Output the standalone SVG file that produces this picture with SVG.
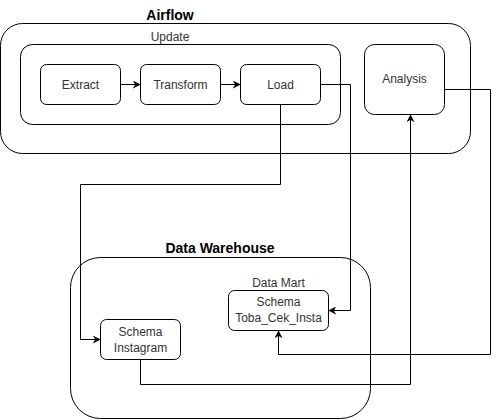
<svg xmlns="http://www.w3.org/2000/svg" width="499" height="420" viewBox="0 0 499 420">
<style>
.box{fill:#fff;stroke:#000;stroke-width:1}
.grp{fill:none;stroke:#000;stroke-width:1}
.t{font-family:"Liberation Sans",Arial,sans-serif;font-size:12px;fill:#333;text-anchor:middle}
.h{font-family:"Liberation Sans",Arial,sans-serif;font-size:14px;font-weight:bold;fill:#000;text-anchor:middle}
.c{fill:none;stroke:#000;stroke-width:1}
</style>
<defs>
<marker id="arr" viewBox="0 0 10 10" refX="9" refY="5" markerWidth="8" markerHeight="8" markerUnits="userSpaceOnUse" orient="auto">
<path d="M0,0 L10,5 L0,10 L3,5 Z" fill="#000"/>
</marker>
</defs>
<rect width="499" height="420" fill="#fff"/>
<g id="airflow">
<rect class="grp" x="0.5" y="23.5" width="470" height="130" rx="22"/>
<text class="h" x="170" y="20">Airflow</text>
</g>
<g id="update">
<rect class="grp" x="20.5" y="44.5" width="320" height="80" rx="12"/>
<text class="t" x="170" y="41">Update</text>
</g>
<g id="warehouse">
<rect class="grp" x="70.5" y="257.5" width="300" height="161" rx="30"/>
<text class="h" x="220" y="253">Data Warehouse</text>
</g>
<g id="extract">
<rect class="box" x="40.5" y="64.5" width="80" height="40" rx="6"/>
<text class="t" x="80.5" y="88.5">Extract</text>
</g>
<g id="transform">
<rect class="box" x="140.5" y="64.5" width="80" height="40" rx="6"/>
<text class="t" x="180.5" y="88.5">Transform</text>
</g>
<g id="load">
<rect class="box" x="240.5" y="64.5" width="80" height="40" rx="6"/>
<text class="t" x="280.5" y="88.5">Load</text>
</g>
<g id="analysis">
<rect class="box" x="364.5" y="44.5" width="80" height="70" rx="10"/>
<text class="t" x="404.5" y="83">Analysis</text>
</g>
<g id="datamart">
<text class="t" x="278.5" y="287">Data Mart</text>
<rect class="box" x="228.5" y="290.5" width="100" height="40" rx="6"/>
<text class="t" x="278.5" y="306">Schema</text>
<text class="t" x="278.5" y="322">Toba_Cek_Insta</text>
</g>
<g id="instagram">
<rect class="box" x="100.5" y="319.5" width="80" height="40" rx="6"/>
<text class="t" x="140.5" y="336">Schema</text>
<text class="t" x="140.5" y="352">Instagram</text>
</g>
<g id="connectors">
<path class="c" d="M120.5,84.5 H140" marker-end="url(#arr)"/>
<path class="c" d="M220.5,84.5 H240" marker-end="url(#arr)"/>
<path class="c" d="M320.5,84.5 H350.5 V310.5 H329" marker-end="url(#arr)"/>
<path class="c" d="M280.5,104.5 V184.5 H80.5 V339.5 H100" marker-end="url(#arr)"/>
<path class="c" d="M444.5,89.5 H490.5 V354.5 H278.5 V331" marker-end="url(#arr)"/>
<path class="c" d="M140.5,359.5 V384.5 H410.5 V115" marker-end="url(#arr)"/>
</g>
</svg>
